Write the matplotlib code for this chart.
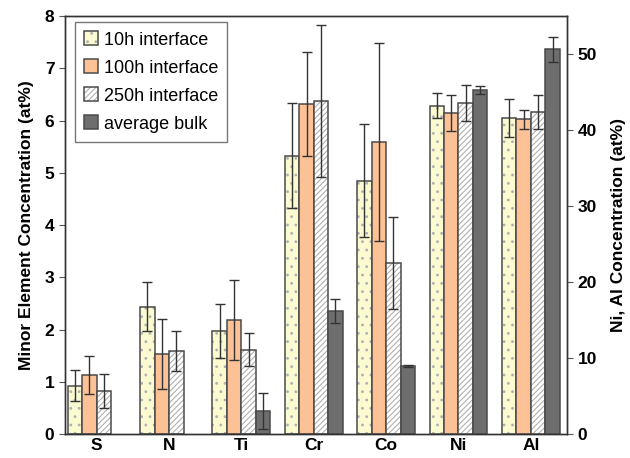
import numpy as np
import matplotlib.pyplot as plt

plt.rcParams['font.family'] = ['Liberation Sans', 'DejaVu Sans']
plt.rcParams['hatch.linewidth'] = 0.8

elements = ['S', 'N', 'Ti', 'Cr', 'Co', 'Ni', 'Al']
series = ['10h interface', '100h interface', '250h interface', 'average bulk']

# minor elements (left axis, at%)
minor_10h = [0.93, 2.44, 1.97, 5.33, 4.85]
minor_10h_err = [0.30, 0.47, 0.52, 1.00, 1.08]
minor_100h = [1.13, 1.54, 2.18, 6.32, 5.59]
minor_100h_err = [0.36, 0.67, 0.77, 1.00, 1.90]
minor_250h = [0.83, 1.59, 1.62, 6.37, 3.28]
minor_250h_err = [0.32, 0.39, 0.32, 1.45, 0.88]
minor_bulk = [np.nan, np.nan, 0.44, 2.35, 1.31]
minor_bulk_err = [np.nan, np.nan, 0.35, 0.23, 0.02]

# Ni, Al (right axis, at%)
major_10h = [43.2, 41.6]
major_10h_err = [1.65, 2.45]
major_100h = [42.2, 41.4]
major_100h_err = [2.35, 1.25]
major_250h = [43.6, 42.4]
major_250h_err = [2.35, 2.25]
major_bulk = [45.3, 50.6]
major_bulk_err = [0.50, 1.60]

faces = ['#fbfad0', '#fcc195', 'white', '#6e6e6e']
hatches = ['..', None, '//////', None]
edge = '#4a4a4a'

fig = plt.figure(figsize=(6.3, 4.58), dpi=100)
ax = fig.add_axes([0.103, 0.052, 0.797, 0.913])
ax2 = ax.twinx()

x = np.arange(len(elements))
w = 0.2
minor = [(minor_10h, minor_10h_err), (minor_100h, minor_100h_err),
         (minor_250h, minor_250h_err), (minor_bulk, minor_bulk_err)]
major = [(major_10h, major_10h_err), (major_100h, major_100h_err),
         (major_250h, major_250h_err), (major_bulk, major_bulk_err)]

handles = []
for i in range(4):
    off = (i - 1.5) * w
    for a, (vals, errs), xs in [(ax, minor[i], x[:5]), (ax2, major[i], x[5:])]:
        if hatches[i]:
            hb = a.bar(xs + off, vals, w, color=faces[i], hatch=hatches[i],
                       edgecolor='#b0b0b0', linewidth=0)
        else:
            hb = a.bar(xs + off, vals, w, color=faces[i], linewidth=0)
        eb = a.bar(xs + off, vals, w, fill=False, edgecolor=edge, linewidth=1.1)
        a.errorbar(xs + off, vals, yerr=errs, fmt='none', ecolor='#333333',
                   elinewidth=1, capsize=3.5, capthick=1)
    handles.append((hb.patches[0], eb.patches[0]))

ax.set_xlim(-0.44, 6.5)
ax.set_ylim(0, 8)
ax2.set_ylim(0, 55)
ax2.set_yticks([0, 10, 20, 30, 40, 50])
ax.set_xticks(x)
ax.set_xticklabels(elements, fontsize=12.5, fontweight='bold')
ax.tick_params(axis='x', length=0, pad=3)
ax.tick_params(axis='y', labelsize=12.5, direction='out', length=4, color='#555555')
ax2.tick_params(axis='y', labelsize=12.5, direction='out', length=4, color='#555555')
for t in ax.get_yticklabels() + ax2.get_yticklabels():
    t.set_fontweight('bold')
for a in (ax, ax2):
    for s in a.spines.values():
        s.set_color('#333333')
        s.set_linewidth(1)

ax.set_ylabel('Minor Element Concentration (at%)', fontsize=12.5, fontweight='bold', labelpad=8)
ax2.set_ylabel('Ni, Al Concentration (at%)', fontsize=12.5, fontweight='bold', labelpad=10)

ax2.legend(handles, series, loc='upper left', fontsize=13, fancybox=False,
           edgecolor='#777777', framealpha=1, handlelength=0.8, handleheight=0.8,
           handletextpad=0.3, borderpad=0.5, labelspacing=0.6, borderaxespad=0,
           bbox_to_anchor=(0.02, 0.985))

fig.savefig('out.png', dpi=100)
